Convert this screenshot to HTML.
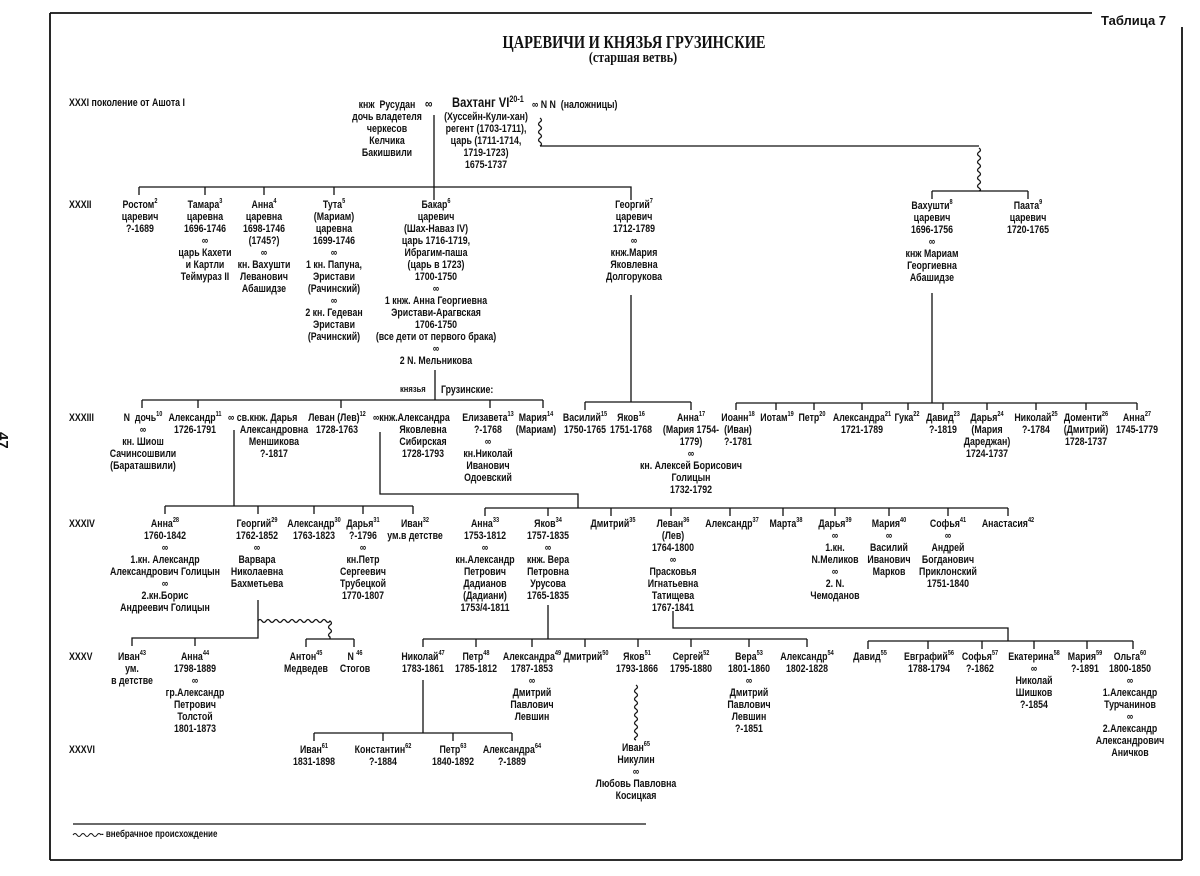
<!DOCTYPE html>
<html><head><meta charset="utf-8">
<style>
html,body{margin:0;padding:0;background:#fff;}
body{width:1200px;height:876px;position:relative;overflow:hidden;font-family:"Liberation Sans",sans-serif;font-weight:bold;font-size:11px;color:#111;}
.t{position:absolute;transform:translateX(-50%) scaleX(0.8);transform-origin:50% 0;text-align:center;line-height:12px;white-space:nowrap;}
.l{position:absolute;line-height:12px;white-space:nowrap;transform:scaleX(0.8);transform-origin:0 0;}
sup{font-size:7px;vertical-align:top;position:relative;top:-3px;}
svg{position:absolute;left:0;top:0;}
</style></head><body>
<svg width="1200" height="876" viewBox="0 0 1200 876" fill="none" stroke="#111" stroke-width="1.3">
<path d="M50 13H1092 M1182 27V860 M50 13V860 M50 860H1182" stroke-width="1.8"/>
<path d="M73 824H646"/>
<path d="M434 115V200"/>
<path d="M139 187H631V200 M139 187V195 M205 187V195 M264 187V195 M334 187V195"/>
<path d="M540 118 q3 2 0 4 q-3 2 0 4 q3 2 0 4 q-3 2 0 4 q3 2 0 4 q-3 2 0 4 q3 2 0 4 M540 146H979"/>
<path d="M979 148 q3 2 0 4 q-3 2 0 4 q3 2 0 4 q-3 2 0 4 q3 2 0 4 q-3 2 0 4 q3 2 0 4 q-3 2 0 4 q3 2 0 4 q-3 2 0 4 q3 2 0 3"/>
<path d="M932 191H1028 M932 191V199 M1028 191V199"/>
<path d="M435 370V400 M142 400H543 M142 400V408 M198 400V408 M341 400V408 M490 400V408 M543 400V408"/>
<path d="M631 295V402 M585 402H691 M585 402V410 M691 402V410"/>
<path d="M932 293V403 M736 403H1137 M736 403V410 M776 403V410 M814 403V410 M862 403V410 M908 403V410 M943 403V410 M987 403V410 M1036 403V410 M1086 403V410 M1137 403V410"/>
<path d="M234 430V506 M165 506H413 M165 506V514 M258 506V514 M314 506V514 M363 506V514 M413 506V514"/>
<path d="M380 432V494H578V508 M485 508H1008 M485 508V516 M548 508V516 M611 508V516 M671 508V516 M730 508V516 M783 508V516 M835 508V516 M889 508V516 M948 508V516 M1008 508V516"/>
<path d="M258 600V638H132V646 M195 638V646"/>
<path d="M258 621 q2 -3 4 0 q2 3 4 0 q2 -3 4 0 q2 3 4 0 q2 -3 4 0 q2 3 4 0 q2 -3 4 0 q2 3 4 0 q2 -3 4 0 q2 3 4 0 q2 -3 4 0 q2 3 4 0 q2 -3 4 0 q2 3 4 0 q2 -3 4 0 q2 3 4 0 q2 -3 4 0 q2 3 4 0 q3 2 0 4 q-3 2 0 4 q3 2 0 4 q-3 2 0 4 l0 2"/>
<path d="M306 639H354 M306 639V647 M354 639V647"/>
<path d="M548 605V639 M423 639H807 M423 639V647 M476 639V647 M532 639V647 M585 639V647 M638 639V647 M691 639V647 M749 639V647 M807 639V647"/>
<path d="M673 611V628H1008V641 M868 641H1133 M868 641V649 M928 641V649 M982 641V649 M1034 641V649 M1087 641V649 M1133 641V649"/>
<path d="M636 685 q3 2 0 4 q-3 2 0 4 q3 2 0 4 q-3 2 0 4 q3 2 0 4 q-3 2 0 4 q3 2 0 4 q-3 2 0 4 q3 2 0 4 q-3 2 0 4 q3 2 0 4 q-3 2 0 4 q3 2 0 4 q-3 2 0 3"/>
<path d="M423 680V733 M314 733H512 M314 733V741 M383 733V741 M453 733V741 M512 733V741"/>
<path d="M73 835 q2 -3 4 0 q2 3 4 0 q2 -3 4 0 q2 3 4 0 q2 -3 4 0 q2 3 4 0 q2 -3 4 0" stroke-width="1"/>
</svg>

<div class="l" style="left:1101px;top:13px;font-size:13px;line-height:16px;transform:none;">Таблица 7</div>
<div class="t" style="left:634px;top:32px;font-family:'Liberation Serif',serif;font-size:18px;line-height:20px;">ЦАРЕВИЧИ И КНЯЗЬЯ ГРУЗИНСКИЕ</div>
<div class="t" style="left:633px;top:50px;font-family:'Liberation Serif',serif;font-size:15px;line-height:17px;">(старшая ветвь)</div>
<div class="l" style="left:8px;top:432px;font-size:15px;transform:rotate(90deg);">47</div>

<div class="l" style="left:69px;top:97px;">XXXI поколение от Ашота I</div>
<div class="l" style="left:69px;top:199px;">XXXII</div>
<div class="l" style="left:69px;top:412px;">XXXIII</div>
<div class="l" style="left:69px;top:518px;">XXXIV</div>
<div class="l" style="left:69px;top:651px;">XXXV</div>
<div class="l" style="left:69px;top:744px;">XXXVI</div>

<div class="t" style="left:387px;top:99px;">кнж &nbsp;Русудан<br>дочь владетеля<br>черкесов<br>Келчика<br>Бакишвили</div>
<div class="l" style="left:425px;top:98px;font-size:13px;">∞</div>
<div class="l" style="left:452px;top:94px;font-size:14px;line-height:16px;">Вахтанг VI<sup style="font-size:9px">20-1</sup></div>
<div class="t" style="left:486px;top:111px;">(Хуссейн-Кули-хан)<br>регент (1703-1711),<br>царь (1711-1714,<br>1719-1723)<br>1675-1737</div>
<div class="l" style="left:532px;top:99px;">∞ N N &nbsp;(наложницы)</div>

<div class="t" style="left:140px;top:199px;">Ростом<sup>2</sup><br>царевич<br>?-1689</div>
<div class="t" style="left:205px;top:199px;">Тамара<sup>3</sup><br>царевна<br>1696-1746<br>∞<br>царь Кахети<br>и Картли<br>Теймураз II</div>
<div class="t" style="left:264px;top:199px;">Анна<sup>4</sup><br>царевна<br>1698-1746<br>(1745?)<br>∞<br>кн. Вахушти<br>Леванович<br>Абашидзе</div>
<div class="t" style="left:334px;top:199px;">Тута<sup>5</sup><br>(Мариам)<br>царевна<br>1699-1746<br>∞<br>1 кн. Папуна,<br>Эристави<br>(Рачинский)<br>∞<br>2 кн. Гедеван<br>Эристави<br>(Рачинский)</div>
<div class="t" style="left:436px;top:199px;">Бакар<sup>6</sup><br>царевич<br>(Шах-Наваз IV)<br>царь 1716-1719,<br>Ибрагим-паша<br>(царь в 1723)<br>1700-1750<br>∞<br>1 кнж. Анна Георгиевна<br>Эристави-Арагвская<br>1706-1750<br>(все дети от первого брака)<br>∞<br>2 N. Мельникова</div>
<div class="l" style="left:400px;top:384px;font-size:9.5px;">князья</div>
<div class="l" style="left:441px;top:384px;">Грузинские:</div>
<div class="t" style="left:634px;top:199px;">Георгий<sup>7</sup><br>царевич<br>1712-1789<br>∞<br>кнж.Мария<br>Яковлевна<br>Долгорукова</div>
<div class="t" style="left:932px;top:200px;">Вахушти<sup>8</sup><br>царевич<br>1696-1756<br>∞<br>кнж Мариам<br>Георгиевна<br>Абашидзе</div>
<div class="t" style="left:1028px;top:200px;">Паата<sup>9</sup><br>царевич<br>1720-1765</div>

<div class="t" style="left:143px;top:412px;">N &nbsp;дочь<sup>10</sup><br>∞<br>кн. Шиош<br>Сачинсошвили<br>(Бараташвили)</div>
<div class="t" style="left:195px;top:412px;">Александр<sup>11</sup><br>1726-1791</div>
<div class="l" style="left:228px;top:412px;">∞ св.кнж. Дарья</div>
<div class="t" style="left:274px;top:424px;">Александровна<br>Меншикова<br>?-1817</div>
<div class="t" style="left:337px;top:412px;">Леван (Лев)<sup>12</sup><br>1728-1763</div>
<div class="l" style="left:373px;top:412px;">∞кнж.Александра</div>
<div class="t" style="left:423px;top:424px;">Яковлевна<br>Сибирская<br>1728-1793</div>
<div class="t" style="left:488px;top:412px;">Елизавета<sup>13</sup><br>?-1768<br>∞<br>кн.Николай<br>Иванович<br>Одоевский</div>
<div class="t" style="left:536px;top:412px;">Мария<sup>14</sup><br>(Мариам)</div>
<div class="t" style="left:585px;top:412px;">Василий<sup>15</sup><br>1750-1765</div>
<div class="t" style="left:631px;top:412px;">Яков<sup>16</sup><br>1751-1768</div>
<div class="t" style="left:691px;top:412px;">Анна<sup>17</sup><br>(Мария 1754-<br>1779)<br>∞<br>кн. Алексей Борисович<br>Голицын<br>1732-1792</div>
<div class="t" style="left:738px;top:412px;">Иоанн<sup>18</sup><br>(Иван)<br>?-1781</div>
<div class="t" style="left:777px;top:412px;">Иотам<sup>19</sup></div>
<div class="t" style="left:812px;top:412px;">Петр<sup>20</sup></div>
<div class="t" style="left:862px;top:412px;">Александра<sup>21</sup><br>1721-1789</div>
<div class="t" style="left:907px;top:412px;">Гука<sup>22</sup></div>
<div class="t" style="left:943px;top:412px;">Давид<sup>23</sup><br>?-1819</div>
<div class="t" style="left:987px;top:412px;">Дарья<sup>24</sup><br>(Мария<br>Дареджан)<br>1724-1737</div>
<div class="t" style="left:1036px;top:412px;">Николай<sup>25</sup><br>?-1784</div>
<div class="t" style="left:1086px;top:412px;">Доменти<sup>26</sup><br>(Дмитрий)<br>1728-1737</div>
<div class="t" style="left:1137px;top:412px;">Анна<sup>27</sup><br>1745-1779</div>

<div class="t" style="left:165px;top:518px;">Анна<sup>28</sup><br>1760-1842<br>∞<br>1.кн. Александр<br>Александрович Голицын<br>∞<br>2.кн.Борис<br>Андреевич Голицын</div>
<div class="t" style="left:257px;top:518px;">Георгий<sup>29</sup><br>1762-1852<br>∞<br>Варвара<br>Николаевна<br>Бахметьева</div>
<div class="t" style="left:314px;top:518px;">Александр<sup>30</sup><br>1763-1823</div>
<div class="t" style="left:363px;top:518px;">Дарья<sup>31</sup><br>?-1796<br>∞<br>кн.Петр<br>Сергеевич<br>Трубецкой<br>1770-1807</div>
<div class="t" style="left:415px;top:518px;">Иван<sup>32</sup><br>ум.в детстве</div>
<div class="t" style="left:485px;top:518px;">Анна<sup>33</sup><br>1753-1812<br>∞<br>кн.Александр<br>Петрович<br>Дадианов<br>(Дадиани)<br>1753/4-1811</div>
<div class="t" style="left:548px;top:518px;">Яков<sup>34</sup><br>1757-1835<br>∞<br>кнж. Вера<br>Петровна<br>Урусова<br>1765-1835</div>
<div class="t" style="left:613px;top:518px;">Дмитрий<sup>35</sup></div>
<div class="t" style="left:673px;top:518px;">Леван<sup>36</sup><br>(Лев)<br>1764-1800<br>∞<br>Прасковья<br>Игнатьевна<br>Татищева<br>1767-1841</div>
<div class="t" style="left:732px;top:518px;">Александр<sup>37</sup></div>
<div class="t" style="left:786px;top:518px;">Марта<sup>38</sup></div>
<div class="t" style="left:835px;top:518px;">Дарья<sup>39</sup><br>∞<br>1.кн.<br>N.Меликов<br>∞<br>2. N.<br>Чемоданов</div>
<div class="t" style="left:889px;top:518px;">Мария<sup>40</sup><br>∞<br>Василий<br>Иванович<br>Марков</div>
<div class="t" style="left:948px;top:518px;">Софья<sup>41</sup><br>∞<br>Андрей<br>Богданович<br>Приклонский<br>1751-1840</div>
<div class="t" style="left:1008px;top:518px;">Анастасия<sup>42</sup></div>

<div class="t" style="left:132px;top:651px;">Иван<sup>43</sup><br>ум.<br>в детстве</div>
<div class="t" style="left:195px;top:651px;">Анна<sup>44</sup><br>1798-1889<br>∞<br>гр.Александр<br>Петрович<br>Толстой<br>1801-1873</div>
<div class="t" style="left:306px;top:651px;">Антон<sup>45</sup><br>Медведев</div>
<div class="t" style="left:355px;top:651px;">N <sup>46</sup><br>Стогов</div>
<div class="t" style="left:423px;top:651px;">Николай<sup>47</sup><br>1783-1861</div>
<div class="t" style="left:476px;top:651px;">Петр<sup>48</sup><br>1785-1812</div>
<div class="t" style="left:532px;top:651px;">Александра<sup>49</sup><br>1787-1853<br>∞<br>Дмитрий<br>Павлович<br>Левшин</div>
<div class="t" style="left:586px;top:651px;">Дмитрий<sup>50</sup></div>
<div class="t" style="left:637px;top:651px;">Яков<sup>51</sup><br>1793-1866</div>
<div class="t" style="left:691px;top:651px;">Сергей<sup>52</sup><br>1795-1880</div>
<div class="t" style="left:749px;top:651px;">Вера<sup>53</sup><br>1801-1860<br>∞<br>Дмитрий<br>Павлович<br>Левшин<br>?-1851</div>
<div class="t" style="left:807px;top:651px;">Александр<sup>54</sup><br>1802-1828</div>
<div class="t" style="left:870px;top:651px;">Давид<sup>55</sup></div>
<div class="t" style="left:929px;top:651px;">Евграфий<sup>56</sup><br>1788-1794</div>
<div class="t" style="left:980px;top:651px;">Софья<sup>57</sup><br>?-1862</div>
<div class="t" style="left:1034px;top:651px;">Екатерина<sup>58</sup><br>∞<br>Николай<br>Шишков<br>?-1854</div>
<div class="t" style="left:1085px;top:651px;">Мария<sup>59</sup><br>?-1891</div>
<div class="t" style="left:1130px;top:651px;">Ольга<sup>60</sup><br>1800-1850<br>∞<br>1.Александр<br>Турчанинов<br>∞<br>2.Александр<br>Александрович<br>Аничков</div>
<div class="t" style="left:636px;top:742px;">Иван<sup>65</sup><br>Никулин<br>∞<br>Любовь Павловна<br>Косицкая</div>

<div class="t" style="left:314px;top:744px;">Иван<sup>61</sup><br>1831-1898</div>
<div class="t" style="left:383px;top:744px;">Константин<sup>62</sup><br>?-1884</div>
<div class="t" style="left:453px;top:744px;">Петр<sup>63</sup><br>1840-1892</div>
<div class="t" style="left:512px;top:744px;">Александра<sup>64</sup><br>?-1889</div>

<div class="l" style="left:101px;top:829px;font-size:10px;">- внебрачное происхождение</div>
</body></html>
